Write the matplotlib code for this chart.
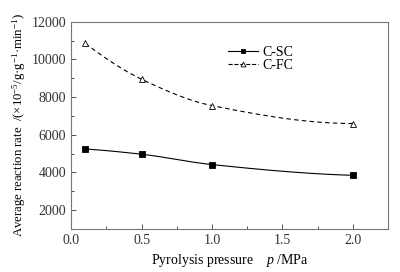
import numpy as np
import matplotlib
matplotlib.use("Agg")
import matplotlib.pyplot as plt
from matplotlib.ticker import MultipleLocator

plt.rcParams['font.family'] = ['Liberation Serif', 'DejaVu Serif']
plt.rcParams['mathtext.fontset'] = 'custom'
plt.rcParams['mathtext.rm'] = 'Liberation Serif'
plt.rcParams['mathtext.it'] = 'Liberation Serif:italic'

pressure = [0.1, 0.5, 1.0, 2.0]
c_sc = [5250, 4970, 4420, 3850]
c_fc = [10850, 8950, 7550, 6600]
labels = ["C-SC", "C-FC"]


def pchip(x, y, xs):
    x = np.asarray(x, float); y = np.asarray(y, float)
    h = np.diff(x); d = np.diff(y) / h
    n = len(x); m = np.zeros(n)
    for k in range(1, n - 1):
        if d[k - 1] * d[k] > 0:
            w1 = 2 * h[k] + h[k - 1]; w2 = h[k] + 2 * h[k - 1]
            m[k] = (w1 + w2) / (w1 / d[k - 1] + w2 / d[k])
    m[0] = ((2 * h[0] + h[1]) * d[0] - h[0] * d[1]) / (h[0] + h[1])
    if np.sign(m[0]) != np.sign(d[0]): m[0] = 0
    m[-1] = ((2 * h[-1] + h[-2]) * d[-1] - h[-1] * d[-2]) / (h[-1] + h[-2])
    if np.sign(m[-1]) != np.sign(d[-1]): m[-1] = 0
    idx = np.clip(np.searchsorted(x, xs) - 1, 0, n - 2)
    t = (xs - x[idx]) / h[idx]
    h00 = 2 * t**3 - 3 * t**2 + 1; h10 = t**3 - 2 * t**2 + t
    h01 = -2 * t**3 + 3 * t**2; h11 = t**3 - t**2
    return h00 * y[idx] + h10 * h[idx] * m[idx] + h01 * y[idx + 1] + h11 * h[idx] * m[idx + 1]


fig = plt.figure(figsize=(4.0, 2.72), dpi=100)
ax = fig.add_axes([0.178, 0.158, 0.792, 0.762])

xs = np.linspace(min(pressure), max(pressure), 300)
for ys, ls, mk, ms, mfc, lab in [(c_sc, '-', 's', 4.5, 'black', labels[0]),
                                 (c_fc, '--', '^', 4.5, 'white', labels[1])]:
    ax.plot(xs, pchip(pressure, ys, xs), ls=ls, color='black', lw=0.8,
            dashes=(4, 3) if ls == '--' else (None, None))
    ax.plot(pressure, ys, ls='none', marker=mk, ms=ms, mfc=mfc, mec='black', mew=0.6)
    ax.plot([], [], ls=ls, color='black', lw=0.8, marker=mk, ms=3.5, mfc=mfc,
            mec='black', mew=0.6, label=lab)

ax.set_xlim(0, 2.25)
ax.set_ylim(1000, 12000)
ax.xaxis.set_major_locator(MultipleLocator(0.5))
ax.xaxis.set_minor_locator(MultipleLocator(0.25))
ax.set_yticks([2000, 4000, 6000, 8000, 10000, 12000])
ax.yaxis.set_minor_locator(MultipleLocator(1000))
ax.xaxis.set_major_formatter(matplotlib.ticker.FormatStrFormatter('%.1f'))
ax.tick_params(which='both', direction='in', top=False, right=False,
               labelsize=10, colors='#333333', width=0.6)
ax.tick_params(which='major', length=3.5)
ax.tick_params(which='minor', length=2)
for s in ax.spines.values():
    s.set_color('#777777')
    s.set_linewidth(0.8)

ax.set_xlabel("Pyrolysis pressure    $p$ /MPa", fontsize=10, labelpad=4)
ax.set_ylabel("Average reaction rate  /(×10$^{-5}$/g·g$^{-1}$·min$^{-1}$)", fontsize=9.2, labelpad=3)

ax.legend(loc='upper left', bbox_to_anchor=(0.455, 0.945), frameon=False,
          fontsize=10, handlelength=2.2, labelspacing=0.0, handletextpad=0.3)

fig.savefig("out.png", dpi=100)
